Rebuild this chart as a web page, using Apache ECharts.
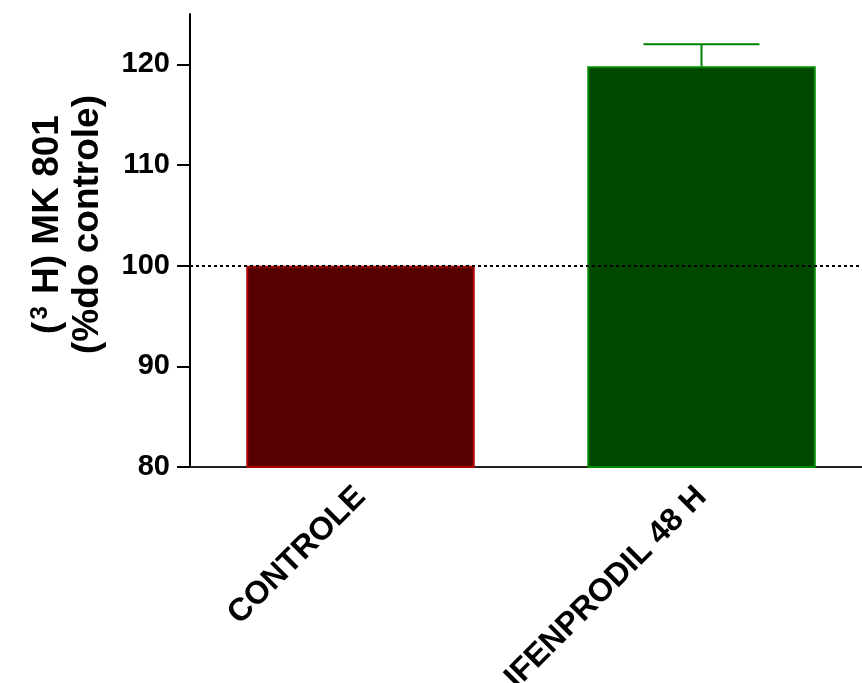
<!DOCTYPE html>
<html>
<head>
<meta charset="utf-8">
<script src="https://cdn.jsdelivr.net/npm/echarts@6/dist/echarts.min.js"></script>
<style>
html,body{margin:0;padding:0;background:#fff;overflow:hidden;width:862px;height:683px;}
#chart{width:862px;height:683px;position:absolute;left:0;top:0;}
</style>
</head>
<body>
<div id="chart"></div>
<script>
// ---- data ----
const categories = ['CONTROLE', 'IFENPRODIL 48 H'];
const means = [100, 119.8];
const upperErr = [null, 122.0];
const yTicks = [80, 90, 100, 110, 120];
const refLine = 100;
const yMin = 80;
const yMax = 125;

// ---- styles ----
const fills = ['#560000', '#004800'];
const borders = ['#b00000', '#008a00'];
const FONT = 'Liberation Sans, Arial, sans-serif';

const chart = echarts.init(document.getElementById('chart'), null, {renderer: 'canvas', width: 862, height: 683});

const barData = means.map((v, i) => ({
  value: v,
  itemStyle: {color: fills[i], borderColor: borders[i], borderWidth: 2}
}));
const errData = [];
upperErr.forEach((u, i) => { if (u != null) errData.push([i, means[i], u]); });

chart.setOption({
  animation: false,
  backgroundColor: '#fff',
  grid: {left: 190, right: -10, top: 14, bottom: 216, containLabel: false, outerBoundsMode: 'none'},
  xAxis: {
    type: 'category',
    data: categories,
    axisLine: {show: true, lineStyle: {color: '#222', width: 2}},
    axisTick: {show: false},
    axisLabel: {
      rotate: 45, margin: 25, interval: 0,
      color: '#000', fontFamily: FONT, fontWeight: 'bold', fontSize: 32
    }
  },
  yAxis: {
    type: 'value',
    min: yMin, max: yMax, interval: 10,
    splitLine: {show: false},
    axisLine: {show: true, lineStyle: {color: '#000', width: 2}},
    axisTick: {show: true, length: 13, lineStyle: {color: '#000', width: 2}, customValues: yTicks},
    axisLabel: {
      margin: 20, color: '#000', fontFamily: FONT, fontWeight: 'bold', fontSize: 29,
      customValues: yTicks
    },
    name: '{a|(}{s|3}{a| H) MK 801}\n{a|(%do controle)}',
    nameLocation: 'middle',
    nameRotate: 90,
    nameGap: 82,
    nameTextStyle: {
      color: '#000', fontFamily: FONT, fontWeight: 'bold', fontSize: 37,
      lineHeight: 40, padding: [0, 0, 0, 32],
      rich: {
        a: {color: '#000', fontFamily: FONT, fontWeight: 'bold', fontSize: 37, lineHeight: 40},
        s: {color: '#000', fontFamily: FONT, fontWeight: 'bold', fontSize: 24, lineHeight: 40, verticalAlign: 'top', padding: [0, 2, 0, 2]}
      }
    }
  },
  series: [
    {
      type: 'line',
      data: [],
      z: 1,
      silent: true,
      markLine: {
        silent: true,
        symbol: ['none', 'none'],
        label: {show: false},
        lineStyle: {color: '#000', width: 2, type: [3, 3]},
        data: [{yAxis: refLine}]
      }
    },
    {
      type: 'bar',
      data: barData,
      barWidth: '67%',
      z: 3
    },
    {
      type: 'custom',
      z: 4,
      data: errData,
      renderItem: function (params, api) {
        const x = api.value(0);
        const lo = api.coord([x, api.value(1)]);
        const hi = api.coord([x, api.value(2)]);
        const half = api.size([1, 0])[0] * 0.17;
        const st = {stroke: '#008000', lineWidth: 2};
        return {
          type: 'group',
          children: [
            {type: 'line', shape: {x1: lo[0], y1: lo[1], x2: hi[0], y2: hi[1]}, style: st},
            {type: 'line', shape: {x1: hi[0] - half, y1: hi[1], x2: hi[0] + half, y2: hi[1]}, style: st}
          ]
        };
      }
    }
  ]
});
</script>
</body>
</html>
